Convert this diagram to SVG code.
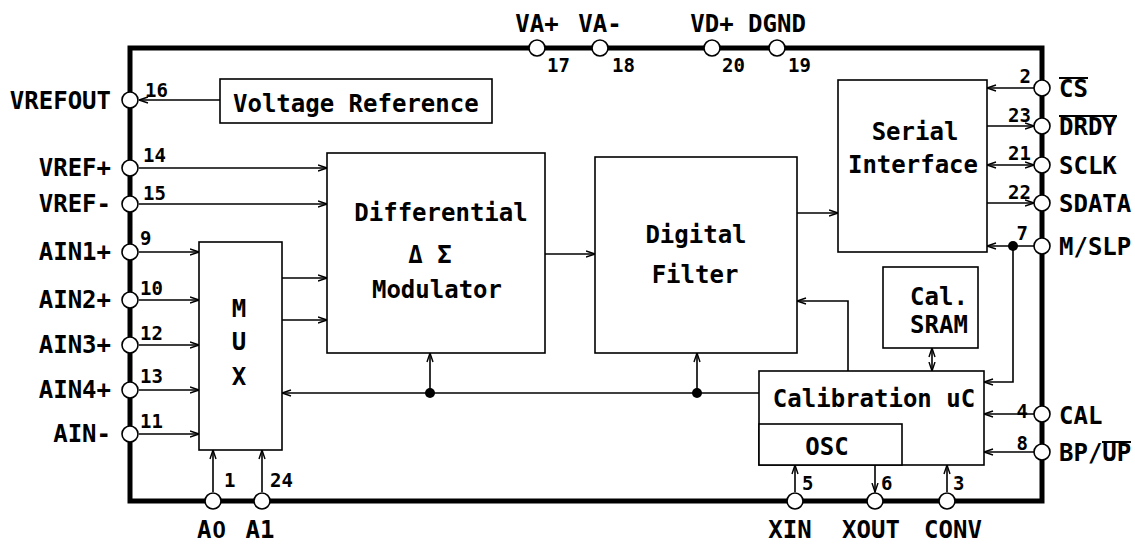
<svg xmlns="http://www.w3.org/2000/svg" width="1135" height="544" viewBox="0 0 1135 544">
<defs>
<style>
.t{font-family:"DejaVu Sans Mono","Liberation Mono",monospace;font-weight:bold;font-size:24px;fill:#000}
.n{font-family:"DejaVu Sans Mono","Liberation Mono",monospace;font-weight:bold;font-size:19px;fill:#000}
.z{font-family:"Liberation Sans",Arial,sans-serif}
.blk{fill:#fff;stroke:#000;stroke-width:1.6}
.pin{fill:#fff;stroke:#000;stroke-width:1.6}
.w{fill:none;stroke:#000;stroke-width:1.6}
.a{marker-end:url(#ah)}
.b{marker-start:url(#ah);marker-end:url(#ah)}
.dot{fill:#000}
</style>
<marker id="ah" viewBox="0 0 10 8" refX="9.5" refY="4" markerWidth="10" markerHeight="8" markerUnits="userSpaceOnUse" orient="auto-start-reverse">
<path d="M0.5,1 L9.5,4 L0.5,7" fill="none" stroke="#000" stroke-width="1.4"/>
</marker>
</defs>
<rect width="1135" height="544" fill="#fff"/>

<g id="chip">
<rect x="130" y="48" width="912" height="453" fill="none" stroke="#000" stroke-width="5"/>
</g>

<g id="connectors">
<line class="w a" x1="220" y1="100" x2="139" y2="100"/>
<line class="w a" x1="139" y1="168" x2="327" y2="168"/>
<line class="w a" x1="139" y1="204" x2="327" y2="204"/>
<line class="w a" x1="139" y1="252" x2="199" y2="252"/>
<line class="w a" x1="139" y1="300" x2="199" y2="300"/>
<line class="w a" x1="139" y1="345" x2="199" y2="345"/>
<line class="w a" x1="139" y1="390" x2="199" y2="390"/>
<line class="w a" x1="139" y1="434" x2="199" y2="434"/>
<line class="w a" x1="282" y1="278" x2="327" y2="278"/>
<line class="w a" x1="282" y1="320" x2="327" y2="320"/>
<line class="w a" x1="545" y1="254" x2="595" y2="254"/>
<line class="w a" x1="797" y1="213" x2="838" y2="213"/>
<line class="w a" x1="759" y1="393" x2="282" y2="393"/>
<line class="w a" x1="430" y1="393" x2="430" y2="353"/>
<line class="w a" x1="697" y1="393" x2="697" y2="353"/>
<polyline class="w a" points="848,371 848,301 797,301"/>
<line class="w b" x1="932" y1="348" x2="932" y2="371"/>
<line class="w a" x1="1034" y1="88" x2="987" y2="88"/>
<line class="w a" x1="987" y1="126" x2="1034" y2="126"/>
<line class="w b" x1="987" y1="165" x2="1034" y2="165"/>
<line class="w a" x1="987" y1="203" x2="1034" y2="203"/>
<line class="w a" x1="1034" y1="246" x2="987" y2="246"/>
<polyline class="w a" points="1013,246 1013,382 984,382"/>
<line class="w a" x1="1034" y1="414" x2="984" y2="414"/>
<line class="w a" x1="1034" y1="452" x2="984" y2="452"/>
<line class="w a" x1="795" y1="492" x2="795" y2="465"/>
<line class="w a" x1="875" y1="465" x2="875" y2="492"/>
<line class="w a" x1="947" y1="492" x2="947" y2="465"/>
<line class="w a" x1="213" y1="492" x2="213" y2="450"/>
<line class="w a" x1="262" y1="492" x2="262" y2="450"/>
<circle class="dot" cx="430" cy="393" r="5"/>
<circle class="dot" cx="697" cy="393" r="5"/>
<circle class="dot" cx="1013" cy="246" r="5"/>
</g>

<g id="vref">
<rect class="blk" x="220" y="79" width="272" height="44"/>
<text class="t" x="233" y="112">Voltage Reference</text>
</g>
<g id="modulator">
<rect class="blk" x="327" y="153" width="218" height="200"/>
<text class="t" x="441" y="221" text-anchor="middle">Differential</text>
<text class="t" x="430" y="263" text-anchor="middle">Δ Σ</text>
<text class="t" x="437" y="298" text-anchor="middle">Modulator</text>
</g>
<g id="filter">
<rect class="blk" x="595" y="157" width="202" height="196"/>
<text class="t" x="696" y="243" text-anchor="middle">Digital</text>
<text class="t" x="695" y="283" text-anchor="middle">Filter</text>
</g>
<g id="serial">
<rect class="blk" x="838" y="80" width="149" height="172"/>
<text class="t" x="915" y="140" text-anchor="middle">Serial</text>
<text class="t" x="913" y="173" text-anchor="middle">Interface</text>
</g>
<g id="mux">
<rect class="blk" x="199" y="242" width="83" height="208"/>
<text class="t" x="239" y="317" text-anchor="middle">M</text>
<text class="t" x="239" y="350" text-anchor="middle">U</text>
<text class="t" x="239" y="385" text-anchor="middle">X</text>
</g>
<g id="sram">
<rect class="blk" x="883" y="267" width="95" height="81"/>
<text class="t" x="939" y="305" text-anchor="middle">Cal.</text>
<text class="t" x="939" y="333" text-anchor="middle">SRAM</text>
</g>
<g id="caluc">
<rect class="blk" x="759" y="371" width="225" height="94"/>
<text class="t" x="874" y="407" text-anchor="middle">Calibration uC</text>
</g>
<g id="osc">
<rect class="blk" x="759" y="424" width="143" height="41"/>
<text class="t" x="827" y="455" text-anchor="middle">OSC</text>
</g>

<g id="pins">
<circle class="pin" cx="130" cy="100" r="8"/>
<circle class="pin" cx="130" cy="168" r="8"/>
<circle class="pin" cx="130" cy="204" r="8"/>
<circle class="pin" cx="130" cy="252" r="8"/>
<circle class="pin" cx="130" cy="300" r="8"/>
<circle class="pin" cx="130" cy="345" r="8"/>
<circle class="pin" cx="130" cy="390" r="8"/>
<circle class="pin" cx="130" cy="434" r="8"/>
<circle class="pin" cx="537" cy="48" r="8"/>
<circle class="pin" cx="600" cy="48" r="8"/>
<circle class="pin" cx="712" cy="48" r="8"/>
<circle class="pin" cx="777" cy="48" r="8"/>
<circle class="pin" cx="1042" cy="88" r="8"/>
<circle class="pin" cx="1042" cy="126" r="8"/>
<circle class="pin" cx="1042" cy="165" r="8"/>
<circle class="pin" cx="1042" cy="203" r="8"/>
<circle class="pin" cx="1042" cy="246" r="8"/>
<circle class="pin" cx="1042" cy="414" r="8"/>
<circle class="pin" cx="1042" cy="452" r="8"/>
<circle class="pin" cx="213" cy="501" r="8"/>
<circle class="pin" cx="262" cy="501" r="8"/>
<circle class="pin" cx="795" cy="501" r="8"/>
<circle class="pin" cx="875" cy="501" r="8"/>
<circle class="pin" cx="947" cy="501" r="8"/>
</g>

<g id="pin-labels">
<text class="t" x="111" y="109" text-anchor="end">VREFOUT</text>
<text class="t" x="111" y="176" text-anchor="end">VREF+</text>
<text class="t" x="111" y="212" text-anchor="end">VREF-</text>
<text class="t" x="111" y="260" text-anchor="end">AIN1+</text>
<text class="t" x="111" y="308" text-anchor="end">AIN2+</text>
<text class="t" x="111" y="353" text-anchor="end">AIN3+</text>
<text class="t" x="111" y="398" text-anchor="end">AIN4+</text>
<text class="t" x="111" y="442" text-anchor="end">AIN-</text>
<text class="t" x="537" y="32" text-anchor="middle">VA+</text>
<text class="t" x="600" y="32" text-anchor="middle">VA-</text>
<text class="t" x="712" y="32" text-anchor="middle">VD+</text>
<text class="t" x="777" y="32" text-anchor="middle">DGND</text>
<text class="t" x="1059" y="97">CS</text>
<line x1="1059" y1="78" x2="1088" y2="78" stroke="#000" stroke-width="2"/>
<text class="t" x="1059" y="135">DRDY</text>
<line x1="1059" y1="116" x2="1117" y2="116" stroke="#000" stroke-width="2"/>
<text class="t" x="1059" y="174">SCLK</text>
<text class="t" x="1059" y="212">SDATA</text>
<text class="t" x="1059" y="255">M/SLP</text>
<text class="t" x="1059" y="424">CAL</text>
<text class="t" x="1059" y="461">BP/UP</text>
<line x1="1102" y1="442" x2="1131" y2="442" stroke="#000" stroke-width="2"/>
<text class="t" x="197" y="538">A<tspan class="z" dx="1">0</tspan></text>
<text class="t" x="260" y="538" text-anchor="middle">A1</text>
<text class="t" x="790" y="538" text-anchor="middle">XIN</text>
<text class="t" x="871" y="538" text-anchor="middle">XOUT</text>
<text class="t" x="953" y="538" text-anchor="middle">CONV</text>
</g>

<g id="pin-numbers">
<text class="n" x="145" y="97">16</text>
<text class="n" x="143" y="162">14</text>
<text class="n" x="143" y="200">15</text>
<text class="n" x="140" y="245">9</text>
<text class="n" x="140" y="295">10</text>
<text class="n" x="140" y="340">12</text>
<text class="n" x="140" y="383">13</text>
<text class="n" x="140" y="428">11</text>
<text class="n" x="547" y="72">17</text>
<text class="n" x="612" y="72">18</text>
<text class="n" x="722" y="72">20</text>
<text class="n" x="788" y="72">19</text>
<text class="n" x="1031" y="83" text-anchor="end">2</text>
<text class="n" x="1031" y="122" text-anchor="end">23</text>
<text class="n" x="1031" y="160" text-anchor="end">21</text>
<text class="n" x="1031" y="199" text-anchor="end">22</text>
<text class="n" x="1028" y="240" text-anchor="end">7</text>
<text class="n" x="1028" y="418" text-anchor="end">4</text>
<text class="n" x="1028" y="450" text-anchor="end">8</text>
<text class="n" x="224" y="487">1</text>
<text class="n" x="270" y="487">24</text>
<text class="n" x="802" y="490">5</text>
<text class="n" x="881" y="490">6</text>
<text class="n" x="953" y="490">3</text>
</g>
</svg>
